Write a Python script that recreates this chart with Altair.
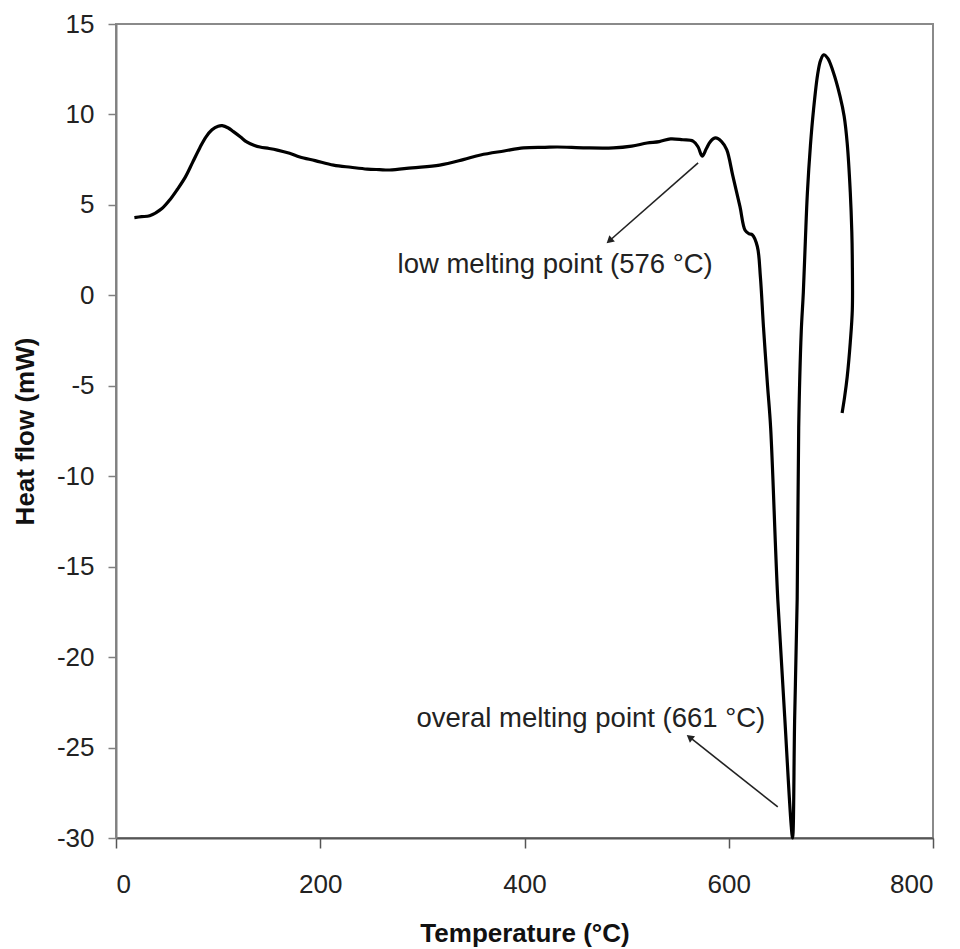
import altair as alt
import pandas as pd

# DSC curve (temperature in °C, heat flow in mW) in drawing order
temperature = [18, 25, 33, 45, 53, 60, 68, 75, 82, 88, 94, 100, 104, 110, 115, 122,
               128, 135, 141, 150, 158, 170, 180, 195, 213, 230, 246, 258, 268, 290,
               317, 340, 357, 380, 399, 420, 432, 460, 487, 505, 520, 532, 543, 555,
               565, 570, 574, 578, 582, 587, 593, 598, 604, 611, 616, 620, 623, 628,
               631, 634, 638, 641, 648, 655, 661, 662.5, 664.5, 667, 668.5, 671, 673,
               675, 677, 680, 683, 687, 690, 693, 697, 702, 709, 713, 716, 719,
               720.5, 721, 721, 719, 716, 713.5, 711]
heat_flow = [4.3, 4.35, 4.4, 4.8, 5.3, 5.85, 6.55, 7.35, 8.15, 8.75, 9.15, 9.35, 9.38,
             9.25, 9.05, 8.75, 8.48, 8.3, 8.2, 8.12, 8.03, 7.85, 7.65, 7.45, 7.2, 7.08,
             6.98, 6.95, 6.93, 7.05, 7.2, 7.5, 7.76, 7.98, 8.15, 8.18, 8.2, 8.15, 8.15,
             8.25, 8.42, 8.5, 8.65, 8.6, 8.53, 8.2, 7.7, 8.1, 8.5, 8.7, 8.5, 8.05, 6.6,
             4.9, 3.6, 3.4, 3.35, 2.7, 1.0, -1.75, -5.0, -7.3, -16.8, -23.5, -29.2, -30.0,
             -23.5, -16.8, -7.3, -2.0, 0.13, 3.0, 5.66, 8.3, 10.25, 12.2, 13.0,
             13.3, 13.1, 12.4, 11.0, 9.9, 8.4, 5.7, 3.5, 1.9, -0.8, -2.6, -4.5,
             -5.6, -6.5]

# Annotations
note_text = ["low melting point (576 °C)", "overal melting point (661 °C)"]
note_x = [430, 465]
note_y = [1.7, -23.4]
arrow_x_tail = [570, 648]
arrow_y_tail = [7.32, -28.28]
arrow_x_head = [484, 562.6]
arrow_y_head = [3.06, -24.47]
arrow_angle = [229, 308]

x_ticks = [0, 200, 400, 600, 800]
y_ticks = [-30, -25, -20, -15, -10, -5, 0, 5, 10, 15]

curve = pd.DataFrame({"T": temperature, "H": heat_flow,
                      "i": list(range(len(temperature)))})
notes = pd.DataFrame({"text": note_text, "x": note_x, "y": note_y})
arrows = pd.DataFrame({"x": arrow_x_tail, "y": arrow_y_tail,
                       "x2": arrow_x_head, "y2": arrow_y_head,
                       "angle": arrow_angle})

FONT = "Liberation Sans"

xscale = alt.Scale(domain=[0, 800], nice=False, zero=False)
yscale = alt.Scale(domain=[-30, 15], nice=False, zero=False)

xaxis = alt.Axis(values=x_ticks, title="Temperature (°C)", grid=False,
                 domainColor="#555555", domainWidth=2, tickColor="#555555",
                 tickWidth=1.5, tickSize=10, labelPadding=23, labelFontSize=26,
                 labelFont=FONT, labelColor="#222222", titleFont=FONT,
                 titleFontSize=26, titleFontWeight="bold", titleColor="#111111",
                 titlePadding=23)
yaxis = alt.Axis(values=y_ticks, title="Heat flow (mW)", grid=False,
                 domainColor="#808080", domainWidth=2, tickColor="#808080",
                 tickWidth=1.5, tickSize=8, labelPadding=14, labelFontSize=26,
                 labelFont=FONT, labelColor="#222222", titleFont=FONT,
                 titleFontSize=26, titleFontWeight="bold", titleColor="#111111",
                 titlePadding=18, labelExpr="'' + datum.value")

line = alt.Chart(curve).mark_line(color="black", strokeWidth=3.2,
                                  interpolate="catmull-rom", strokeJoin="round").encode(
    x=alt.X("T:Q", scale=xscale, axis=xaxis),
    y=alt.Y("H:Q", scale=yscale, axis=yaxis),
    order="i:Q",
)

text = alt.Chart(notes).mark_text(font=FONT, fontSize=27.5, color="#222222",
                                  align="center", baseline="middle").encode(
    x=alt.X("x:Q", scale=xscale), y=alt.Y("y:Q", scale=yscale), text="text:N")

rules = alt.Chart(arrows).mark_rule(color="#222222", strokeWidth=1.6).encode(
    x=alt.X("x:Q", scale=xscale), y=alt.Y("y:Q", scale=yscale),
    x2="x2:Q", y2="y2:Q")

heads = alt.Chart(arrows).mark_point(shape="triangle", filled=True,
                                     color="#222222", size=70, opacity=1).encode(
    x=alt.X("x2:Q", scale=xscale), y=alt.Y("y2:Q", scale=yscale),
    angle=alt.Angle("angle:Q", scale=None))

chart = alt.layer(line, rules, heads, text).properties(
    width=817, height=814,
    autosize=alt.AutoSizeParams(type="none"),
    padding={"left": 116, "top": 24, "right": 27, "bottom": 111},
    background="white",
).configure_view(stroke="#8a8a8a", strokeWidth=2)

chart.save("out.html", embed_options={"renderer": "svg", "actions": False})
